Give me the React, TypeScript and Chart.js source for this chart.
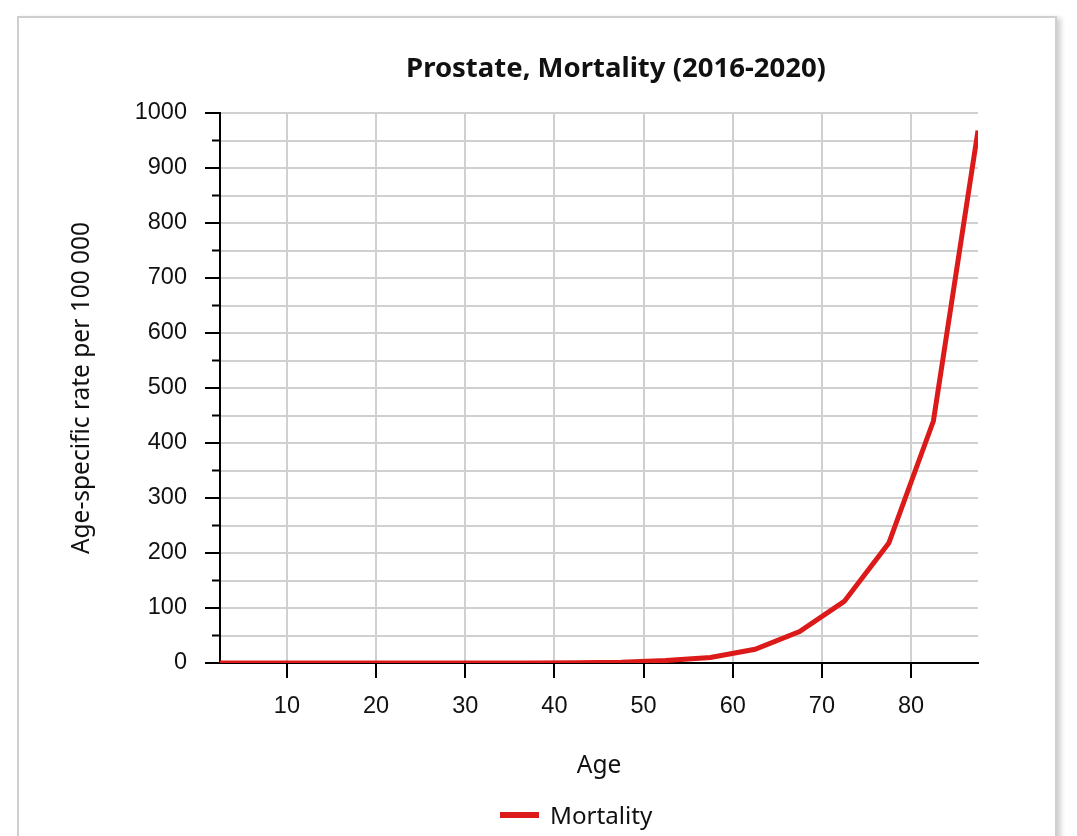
import React, { useEffect, useRef } from 'react';
import { Chart, registerables } from 'chart.js';

Chart.register(...registerables);

// ---- data ----
const ages = [2.5, 7.5, 12.5, 17.5, 22.5, 27.5, 32.5, 37.5, 42.5, 47.5, 52.5, 57.5, 62.5, 67.5, 72.5, 77.5, 82.5, 87.5];
const mortality = [0, 0, 0, 0, 0, 0, 0, 0.1, 0.5, 1.5, 4.5, 10, 25, 57, 112, 218, 440, 968];
const xTickValues = [10, 20, 30, 40, 50, 60, 70, 80];
const xMin = 2.5;
const xMax = 87.5;
const yMin = 0;
const yMax = 1000;
const yStep = 50;
const yLabelStep = 100;

const chartTitle = 'Prostate, Mortality (2016-2020)';
const xTitle = 'Age';
const yTitle = 'Age-specific rate per 100 000';
const seriesName = 'Mortality';

const RED = '#dc1a1a';
const GRID = '#d0d0d0';
const TEXT = '#111';
const SANS = '"Noto Sans", sans-serif';
const TICKFONT = '"Liberation Sans", Arial, sans-serif';

const minorTicks = {
  id: 'minorTicks',
  afterDraw(chart: any) {
    const y = chart.scales.y;
    const ctx = chart.ctx;
    const left = chart.chartArea.left;
    ctx.save();
    ctx.strokeStyle = '#000';
    ctx.lineWidth = 2;
    y.ticks.forEach((t: any) => {
      if (t.value % yLabelStep !== 0) {
        const py = y.getPixelForValue(t.value);
        ctx.beginPath();
        ctx.moveTo(left - 8, py);
        ctx.lineTo(left, py);
        ctx.stroke();
      }
    });
    ctx.restore();
  },
};

export default function App() {
  const ref = useRef<HTMLCanvasElement | null>(null);

  useEffect(() => {
    document.documentElement.style.overflow = 'hidden';
    const chart = new Chart(ref.current as HTMLCanvasElement, {
      type: 'line',
      data: {
        datasets: [
          {
            label: seriesName,
            data: ages.map((a, i) => ({ x: a, y: mortality[i] })),
            borderColor: RED,
            backgroundColor: RED,
            borderWidth: 5,
            pointRadius: 0,
            tension: 0,
            fill: false,
          },
        ],
      },
      options: {
        animation: false,
        responsive: true,
        maintainAspectRatio: false,
        layout: { padding: { left: 47, right: 76, top: 94, bottom: 55 } },
        plugins: {
          legend: { display: false },
          title: { display: false },
          tooltip: { enabled: false },
        },
        scales: {
          x: {
            type: 'linear',
            min: xMin,
            max: xMax,
            afterBuildTicks: (s: any) => {
              s.ticks = xTickValues.map((v) => ({ value: v }));
            },
            afterFit: (s: any) => {
              s.height = 118;
            },
            grid: { color: GRID, lineWidth: 2, tickLength: 15, tickColor: '#000', tickWidth: 2 },
            border: { color: '#000', width: 2 },
            ticks: {
              font: { family: TICKFONT, size: 23.5 },
              color: TEXT,
              padding: 14,
              maxRotation: 0,
              autoSkip: false,
            },
            title: { display: true, text: xTitle, font: { family: SANS, size: 24.5 }, color: TEXT, padding: 0 },
          },
          y: {
            min: yMin,
            max: yMax,
            afterFit: (s: any) => {
              s.width = 153;
            },
            grid: {
              color: GRID,
              lineWidth: 2,
              tickLength: 15,
              tickWidth: 2,
              tickColor: (c: any) => (c.tick && c.tick.value % yLabelStep === 0 ? '#000' : 'rgba(0,0,0,0)'),
            },
            border: { color: '#000', width: 2 },
            ticks: {
              stepSize: yStep,
              autoSkip: false,
              callback: (v: any) => (Number(v) % yLabelStep === 0 ? String(v) : ''),
              font: { family: TICKFONT, size: 23.5 },
              color: TEXT,
              padding: 18,
            },
            title: { display: true, text: yTitle, font: { family: SANS, size: 24.5 }, color: TEXT, padding: 0 },
          },
        },
      },
      plugins: [minorTicks],
    } as any);
    return () => chart.destroy();
  }, []);

  return (
    <div>
      <div
        style={{
          position: 'fixed',
          left: 17,
          top: 16,
          width: 1036,
          height: 900,
          border: '2px solid #cfcfcf',
          boxShadow: '4px 2px 5px rgba(0,0,0,0.18)',
          background: '#fff',
        }}
      />
      <div
        style={{
          position: 'fixed',
          left: 0,
          top: 51,
          width: 1232,
          textAlign: 'center',
          fontFamily: SANS,
          fontWeight: 700,
          fontSize: 27.5,
          lineHeight: '32px',
          color: TEXT,
        }}
      >
        {chartTitle}
      </div>
      <div style={{ position: 'fixed', left: 20, top: 19, width: 1034, height: 817 }}>
        <canvas ref={ref} />
      </div>
      <div
        style={{
          position: 'fixed',
          left: 500,
          top: 800,
          height: 28,
          display: 'flex',
          alignItems: 'center',
          fontFamily: SANS,
          fontSize: 24.2,
          color: TEXT,
        }}
      >
        <div style={{ width: 39, height: 6, background: RED, marginRight: 11, marginTop: 2 }} />
        <span>{seriesName}</span>
      </div>
    </div>
  );
}
